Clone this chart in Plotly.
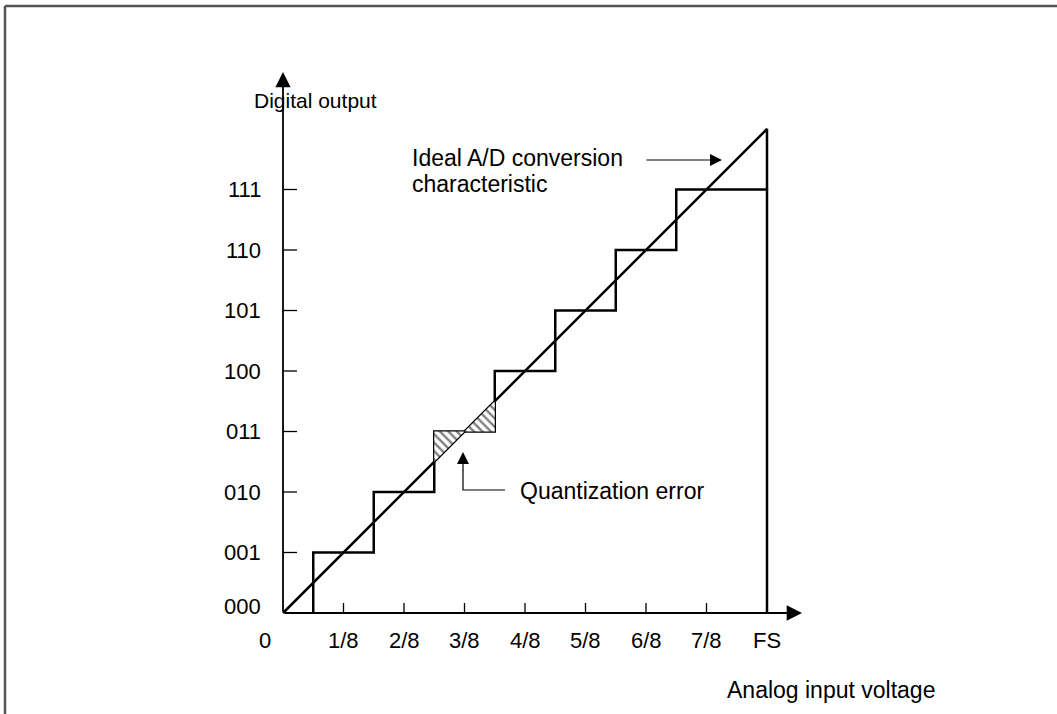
import plotly.graph_objects as go

# --- data ---
x_ticks = [1, 2, 3, 4, 5, 6, 7, 8]
x_labels = ["1/8", "2/8", "3/8", "4/8", "5/8", "6/8", "7/8", "FS"]
y_codes = [0, 1, 2, 3, 4, 5, 6, 7]
y_labels = ["000", "001", "010", "011", "100", "101", "110", "111"]
full_scale = 8
ideal_x = [0, 8]
ideal_y = [0, 8]

PX = 60.5          # pixels per LSB
X0, Y0 = 283, 613  # origin in pixels
W, H = 1057, 714
FAMILY = "Liberation Sans, Arial, sans-serif"
FONT = dict(family=FAMILY, size=22, color="black")
FONT_BIG = dict(family=FAMILY, size=23, color="black")


def px_x(p):
    return (p - X0) / PX


def px_y(p):
    return (Y0 - p) / PX


fig = go.Figure()

# staircase transfer characteristic (transitions at half LSB)
sx, sy = [], []
for code in y_codes:
    if code == 0:
        sx += [0.5]
        sy += [0]
    else:
        sx += [code - 0.5, code - 0.5]
        sy += [code - 1, code]
sx += [full_scale, full_scale]
sy += [y_codes[-1], 0]
fig.add_trace(go.Scatter(x=sx, y=sy, mode="lines", line=dict(color="black", width=2.5),
                         hoverinfo="skip"))

# ideal line and the FS vertical up to its end
fig.add_trace(go.Scatter(x=ideal_x + [ideal_x[1]], y=ideal_y + [y_codes[-1]], mode="lines",
                         line=dict(color="black", width=2.5), hoverinfo="skip"))

# hatched quantization error around code 011
c = 3
for tx, ty in [([c - 0.5, c - 0.5, c, c - 0.5], [c - 0.5, c, c, c - 0.5]),
               ([c, c + 0.5, c + 0.5, c], [c, c + 0.5, c, c])]:
    fig.add_trace(go.Scatter(x=tx, y=ty, mode="lines", fill="toself", line=dict(width=0),
                             fillcolor="white",
                             fillpattern=dict(shape="\\", size=6, solidity=0.4,
                                              fgcolor="black", bgcolor="white"),
                             hoverinfo="skip"))

# axis ticks
tx_, ty_ = [], []
for t in x_ticks[:-1]:
    tx_ += [t, t, None]
    ty_ += [0, 10 / PX, None]
for t in y_codes[1:]:
    tx_ += [0, 14 / PX, None]
    ty_ += [t, t, None]
fig.add_trace(go.Scatter(x=tx_, y=ty_, mode="lines", line=dict(color="black", width=1.3),
                         hoverinfo="skip"))

# axes with arrow heads
fig.add_annotation(x=px_x(802), y=0, ax=0, ay=0, xref="x", yref="y", axref="x", ayref="y",
                   showarrow=True, arrowhead=2, arrowsize=1.7, arrowwidth=1.8, arrowcolor="black",
                   text="")
fig.add_annotation(x=0, y=px_y(72), ax=0, ay=0, xref="x", yref="y", axref="x", ayref="y",
                   showarrow=True, arrowhead=2, arrowsize=1.7, arrowwidth=1.8, arrowcolor="black",
                   text="")

# tick labels
for t, lab in zip(x_ticks, x_labels):
    fig.add_annotation(x=t, y=px_y(640), text=lab, showarrow=False, font=FONT)
fig.add_annotation(x=px_x(265), y=px_y(640), text="0", showarrow=False, font=FONT)
for t, lab in zip(y_codes, y_labels):
    yy = px_y(606) if t == 0 else t
    fig.add_annotation(x=px_x(263), y=yy, text=lab, showarrow=False, xanchor="right", font=FONT)

# axis titles
fig.add_annotation(x=px_x(252), y=px_y(100), text="Digital output", showarrow=False,
                   xanchor="left", font=dict(family=FAMILY, size=21, color="black"))
fig.add_annotation(x=px_x(937), y=px_y(690), text="Analog input voltage", showarrow=False,
                   xanchor="right", font=FONT_BIG)

# ideal characteristic callout
fig.add_annotation(x=px_x(410), y=px_y(158), text="Ideal A/D conversion",
                   showarrow=False, xanchor="left", font=FONT_BIG)
fig.add_annotation(x=px_x(410), y=px_y(184), text="characteristic",
                   showarrow=False, xanchor="left", font=FONT_BIG)
fig.add_annotation(x=px_x(722), y=px_y(160), ax=px_x(645), ay=px_y(160),
                   xref="x", yref="y", axref="x", ayref="y", text="", showarrow=True,
                   arrowhead=2, arrowsize=2, arrowwidth=1.2, arrowcolor="black")

# quantization error callout
fig.add_trace(go.Scatter(x=[px_x(505), px_x(463), px_x(463)], y=[px_y(490), px_y(490), px_y(470)],
                         mode="lines", line=dict(color="black", width=1.2), hoverinfo="skip"))
fig.add_annotation(x=px_x(463), y=px_y(452), ax=px_x(463), ay=px_y(472),
                   xref="x", yref="y", axref="x", ayref="y", text="", showarrow=True,
                   arrowhead=2, arrowsize=2, arrowwidth=1.2, arrowcolor="black")
fig.add_annotation(x=px_x(518), y=px_y(491), text="Quantization error", showarrow=False,
                   xanchor="left", font=FONT_BIG)

# frame
fig.add_shape(type="line", xref="paper", yref="paper", x0=5 / W, x1=5 / W, y0=0, y1=1 - 6 / H,
              line=dict(color="#555555", width=2.5))
fig.add_shape(type="line", xref="paper", yref="paper", x0=5 / W, x1=1, y0=1 - 6 / H, y1=1 - 6 / H,
              line=dict(color="#555555", width=2.5))

fig.update_layout(
    width=W, height=H,
    margin=dict(l=0, r=0, t=0, b=0),
    showlegend=False,
    plot_bgcolor="white", paper_bgcolor="white",
    xaxis=dict(range=[px_x(0), px_x(W)], visible=False, fixedrange=True),
    yaxis=dict(range=[px_y(H), px_y(0)], visible=False, fixedrange=True),
)

fig.write_html("out.html", config={"displayModeBar": False},
               post_script="document.body.style.margin='0';")
